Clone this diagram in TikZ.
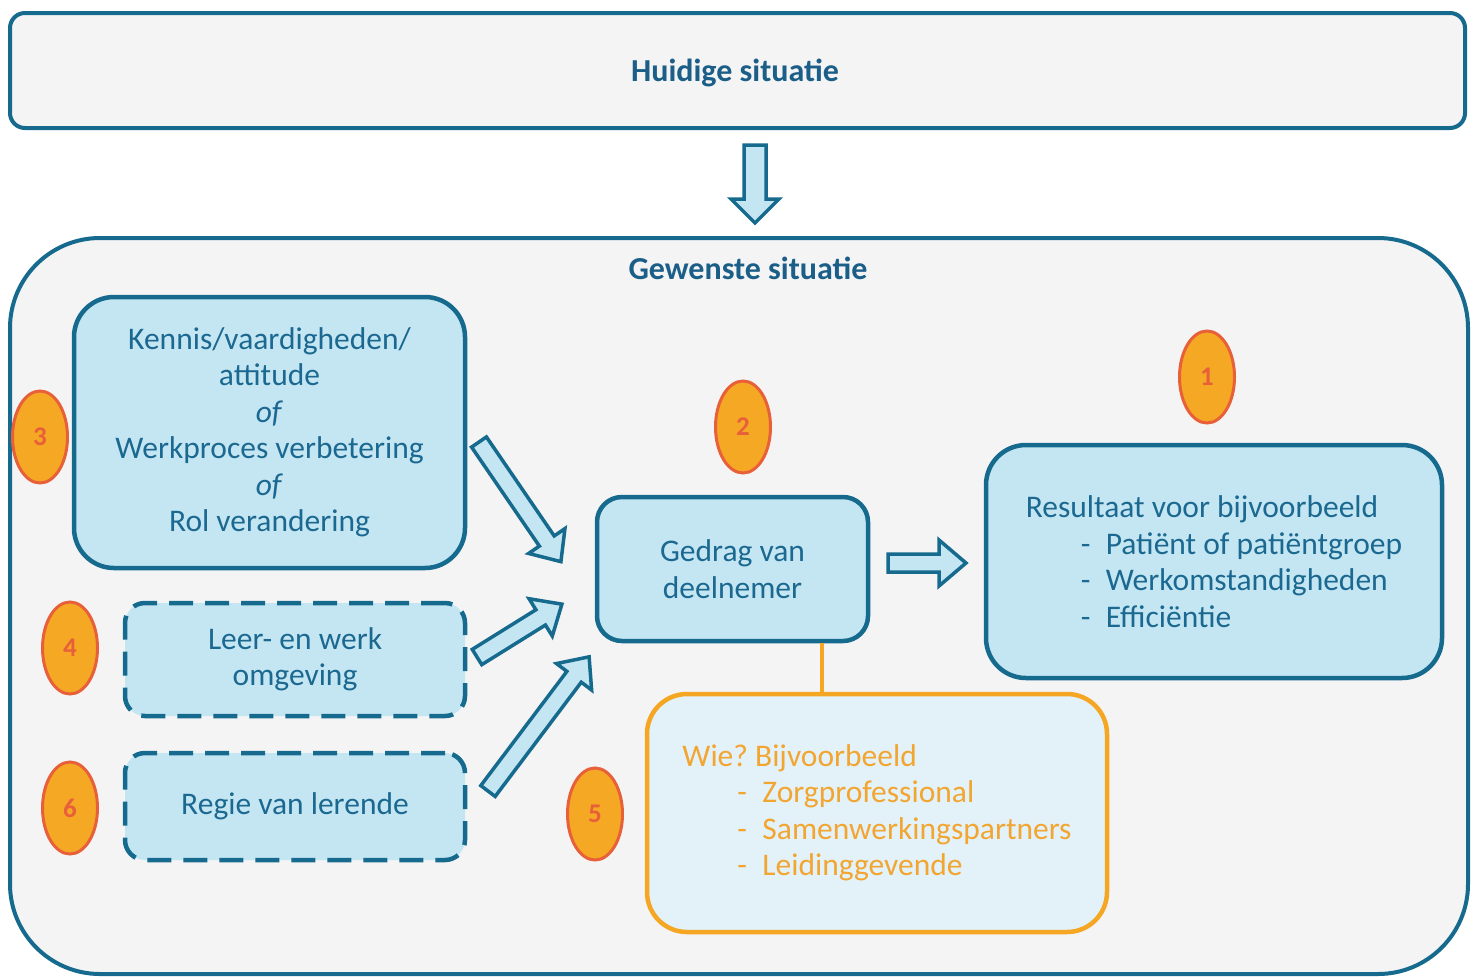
\documentclass[tikz,border=0pt]{standalone}
\usepackage{fontspec}
\setmainfont{Carlito}
\usetikzlibrary{shapes.geometric}
\definecolor{tealB}{HTML}{156A8E}
\definecolor{tealT}{HTML}{1B6890}
\definecolor{tealH}{HTML}{1B5E88}
\definecolor{lblue}{HTML}{C4E6F3}
\definecolor{wiefill}{HTML}{E3F2F8}
\definecolor{bggray}{HTML}{F4F4F4}
\definecolor{orangeF}{HTML}{F5A823}
\definecolor{redO}{HTML}{E8603A}
\definecolor{orangeL}{HTML}{F5A623}
\definecolor{orangeT}{HTML}{F2A531}
\frenchspacing
\newcommand{\barrow}[7]{%
  \draw[blkarrow, shift={(#1,#2)}, rotate=#3]
    (0,-#5) -- ({#4-#7},-#5) -- ({#4-#7},-#6) -- (#4,0) -- ({#4-#7},#6) -- ({#4-#7},#5) -- (0,#5) -- cycle;}
\newcommand{\itm}[1]{\makebox[80pt][l]{\hspace{55pt}-}#1}
\begin{document}
\begin{tikzpicture}[x=1pt,y=-1pt,
  txt/.style={font=\fontsize{31.5}{36.5}\selectfont},
  bgbox/.style={draw=tealB, line width=4pt, fill=bggray, inner sep=0pt},
  box/.style={draw=tealB, line width=4.5pt, fill=lblue, text=tealT, txt, align=center, inner sep=0pt},
  dbox/.style={box, dash pattern=on 24pt off 12pt},
  num/.style={ellipse, draw=redO, fill=orangeF, line width=3pt, minimum width=55pt, minimum height=92pt, inner sep=0pt, text=redO, font=\bfseries\fontsize{27}{28}\selectfont},
  blkarrow/.style={draw=tealB, fill=lblue, line width=3.5pt, line join=miter},
  wiebox/.style={draw=orangeL, line width=4.5pt, fill=wiefill, text=orangeT, txt, align=left, inner sep=0pt},
  link/.style={draw=orangeL, line width=4pt},
  ttl/.style={text=tealH, font=\bfseries\fontsize{32}{36}\selectfont, inner sep=0pt}
]
\useasboundingbox (0,0) rectangle (1474,978);

% top box
\node[bgbox, minimum width=1455pt, minimum height=115pt, rounded corners=15pt] (huidig) at (737.5,70.5) {};
\node[ttl] (huidigtxt) at (735,73) {Huidige situatie};

% big box
\node[bgbox, minimum width=1458pt, minimum height=736pt, rounded corners=90pt] (gewenstbox) at (739,606) {};
\node[ttl] (gewenst) at (748,268) {Gewenste situatie};

% down arrow
\barrow{755}{145}{-90}{78}{11}{24}{24}

% boxes
\node[box, minimum width=391pt, minimum height=271pt, rounded corners=40pt] (kennis) at (269.5,432.5)
  {Kennis/vaardigheden/\\attitude\\\textit{of}\\Werkproces verbetering\\\textit{of}\\Rol verandering};
\node[dbox, minimum width=340pt, minimum height=113pt, rounded corners=20pt] (leer) at (295,659.5)
  {Leer- en werk\\omgeving};
\node[dbox, minimum width=340pt, minimum height=107pt, rounded corners=20pt] (regie) at (295,806.5)
  {Regie van lerende};
\node[box, minimum width=271pt, minimum height=144pt, rounded corners=25pt] (gedrag) at (732.5,569)
  {Gedrag van\\deelnemer};
\node[box, align=left, minimum width=456pt, minimum height=233pt, rounded corners=40pt] (result) at (1214,561.5)
  {Resultaat voor bijvoorbeeld\\\itm{Patiënt of patiëntgroep}\\\itm{Werkomstandigheden}\\\itm{Efficiëntie}};
\node[wiebox, minimum width=460pt, minimum height=238pt, rounded corners=40pt] (wie) at (877,813)
  {Wie? Bijvoorbeeld\\\itm{Zorgprofessional}\\\itm{Samenwerkingspartners}\\\itm{Leidinggevende}};

% link
\draw[link] ([xshift=89.5pt]gedrag.south) -- ([xshift=89.5pt]gedrag.south |- wie.north);

% block arrows
\barrow{479}{442}{-55.6}{145}{9}{22}{25}
\barrow{477}{657}{31.9}{100}{9}{22}{25}
\barrow{488}{791}{53}{168}{9}{22}{25}
\barrow{888}{563}{0}{78}{9}{23}{27}

% numbers
\node[num] (n1) at (1207,377) {1};
\node[num] (n2) at (743,427) {2};
\node[num] (n3) at (40,437) {3};
\node[num] (n4) at (70,648) {4};
\node[num] (n5) at (595,814) {5};
\node[num] (n6) at (70,808) {6};
\end{tikzpicture}
\end{document}
